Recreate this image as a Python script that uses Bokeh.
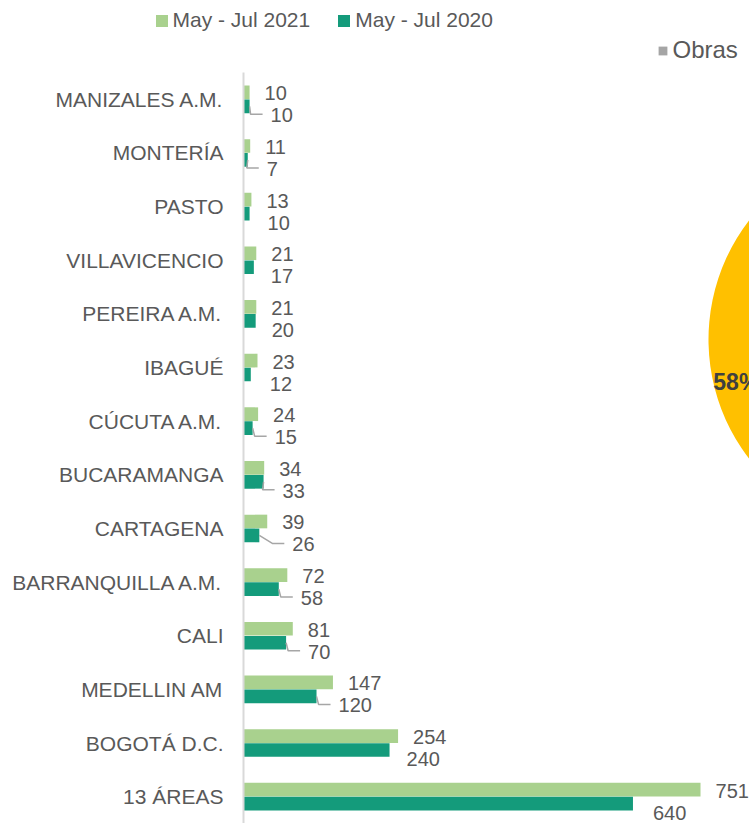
import math
from bokeh.plotting import figure
from bokeh.models import ColumnDataSource, Range1d, FixedTicker, Legend, LegendItem
from bokeh.core.properties import value
from bokeh.embed import file_html
from bokeh.resources import INLINE

# ---------------- data ----------------
categories = ["MANIZALES A.M.", "MONTERÍA", "PASTO", "VILLAVICENCIO", "PEREIRA A.M.",
              "IBAGUÉ", "CÚCUTA A.M.", "BUCARAMANGA", "CARTAGENA", "BARRANQUILLA A.M.",
              "CALI", "MEDELLIN AM", "BOGOTÁ D.C.", "13 ÁREAS"]
may_jul_2021 = [10, 11, 13, 21, 21, 23, 24, 34, 39, 72, 81, 147, 254, 751]
may_jul_2020 = [10, 7, 10, 17, 20, 12, 15, 33, 26, 58, 70, 120, 240, 640]
series_names = ["May - Jul 2021", "May - Jul 2020"]
pie_legend_label = "Obras"
pie_shares = [42, 58]

# ---------------- styling ----------------
C21 = "#A9D18E"
C20 = "#149B7B"
TXT = "#595959"
FONT = "Liberation Sans"
pie_colors = ["#A5A5A5", "#FFC000"]
# pixel nudges of the 2020 data labels (label start minus bar end) and leader lines
label_dx_2020 = [22, 20, 19, 18, 17, 20, 23, 20, 34, 23, 23, 23, 18, 21]
leader_2020 = [True, True, False, False, False, False, True, True, True, True, True, True, False, False]

W, H = 749, 823
AX_X, PLOT_TOP = 243, 72          # page position of the value axis and of the first band
x_max = 831.5                     # value at the right edge of the page
kx = (W - AX_X) / x_max
n = len(categories)
ky = (H - PLOT_TOP) / n


def px_to_x(px):
    return (px - AX_X) / kx


def py_to_y(py):
    return (py - PLOT_TOP) / ky - 0.5


p = figure(width=W, height=H, output_backend="svg", toolbar_location=None,
           x_range=Range1d(px_to_x(0), px_to_x(W)), y_range=Range1d(py_to_y(H), py_to_y(0)),
           x_axis_location=None, min_border_left=0, min_border_top=0,
           min_border_right=0, min_border_bottom=0)
p.outline_line_color = None
p.xgrid.visible = False
p.ygrid.visible = False
p.background_fill_color = "white"
p.border_fill_color = "white"

idx = list(range(n))
yax = p.yaxis[0]
yax.fixed_location = 0
yax.bounds = (-0.5, n - 0.5)
yax.ticker = FixedTicker(ticks=idx)
yax.major_label_overrides = {i: c for i, c in zip(idx, categories)}
yax.major_label_text_font = FONT
yax.major_label_text_font_size = "21px"
yax.major_label_text_color = TXT
yax.major_label_standoff = 20
yax.major_tick_line_color = None
yax.major_tick_out = 0
yax.major_tick_in = 0
yax.minor_tick_line_color = None
yax.axis_line_color = "#D9D9D9"
yax.axis_line_width = 2

BH = 0.255
OFF = 0.13
src21 = ColumnDataSource(dict(y=[i - OFF for i in idx], v=may_jul_2021))
src20 = ColumnDataSource(dict(y=[i + OFF for i in idx], v=may_jul_2020))
r21 = p.hbar(y="y", left=0, right="v", height=BH, source=src21, fill_color=C21, line_color=None)
r20 = p.hbar(y="y", left=0, right="v", height=BH, source=src20, fill_color=C20, line_color=None)

# leader lines for moved 2020 labels
lab20_x = [v + (dx - 1) / kx for v, dx in zip(may_jul_2020, label_dx_2020)]
lab20_y = [i + 16 / ky for i in idx]
xs, ys = [], []
for i, v, dx, show in zip(idx, may_jul_2020, label_dx_2020, leader_2020):
    if not show:
        continue
    lx = v + dx / kx
    ly = i + 15 / ky
    xs.append([v, lx - 21 / kx, lx - 9 / kx])
    ys.append([i + OFF, ly, ly])
p.multi_line(xs=xs, ys=ys, line_color="#A6A6A6", line_width=1.5)

lab21 = ColumnDataSource(dict(x=[v + 15 / kx for v in may_jul_2021],
                              y=[i - 6 / ky for i in idx],
                              t=[str(v) for v in may_jul_2021]))
lab20 = ColumnDataSource(dict(x=lab20_x, y=lab20_y, t=[str(v) for v in may_jul_2020]))
for s in (lab21, lab20):
    p.text(x="x", y="y", text="t", source=s, text_font=value(FONT), text_font_size="20px",
           text_color=TXT, text_align="left", text_baseline="middle")

# ---------------- partial pie on the right ----------------
pie_cx = px_to_x(903)
pie_cy = py_to_y(339)
R = 195
starts, ends = [], []
a = 90.0
for s in pie_shares:
    b = a - s / sum(pie_shares) * 360.0
    starts.append(math.radians(b))
    ends.append(math.radians(a))
    a = b
pie_src = ColumnDataSource(dict(x=[pie_cx] * len(pie_shares), y=[pie_cy] * len(pie_shares),
                                s=starts, e=ends, c=pie_colors))
rpie = p.wedge(x="x", y="y", radius=R, radius_units="screen", start_angle="s", end_angle="e",
               fill_color="c", line_color=None, source=pie_src)
mid = (starts[1] + ends[1]) / 2
rl = 0.885 * R
p.text(x=[pie_cx + rl * math.cos(mid) / kx], y=[pie_cy - rl * math.sin(mid) / ky],
       text=[f"{pie_shares[1]}%"], text_font=value(FONT), text_font_size="23px",
       text_font_style="bold", text_color="#404040", text_align="center", text_baseline="middle")

# ---------------- legends ----------------
leg = Legend(items=[LegendItem(label=series_names[0], renderers=[r21]),
                    LegendItem(label=series_names[1], renderers=[r20])],
             location=(153.5, H - 32), orientation="horizontal",
             glyph_width=15, glyph_height=15, label_standoff=4, spacing=26,
             padding=0, margin=0, label_height=15,
             label_text_font=FONT, label_text_font_size="21px", label_text_color=TXT,
             border_line_color=None, background_fill_alpha=0)
p.add_layout(leg)
leg2 = Legend(items=[LegendItem(label=pie_legend_label, renderers=[rpie], index=0)],
              location=(656.5, H - 64), orientation="horizontal",
              glyph_width=11, glyph_height=11, label_standoff=5, padding=0, margin=0, label_height=11,
              label_text_font=FONT, label_text_font_size="24px", label_text_color=TXT,
              border_line_color=None, background_fill_alpha=0)
p.add_layout(leg2)

open("out.html", "w").write(file_html(p, INLINE))
